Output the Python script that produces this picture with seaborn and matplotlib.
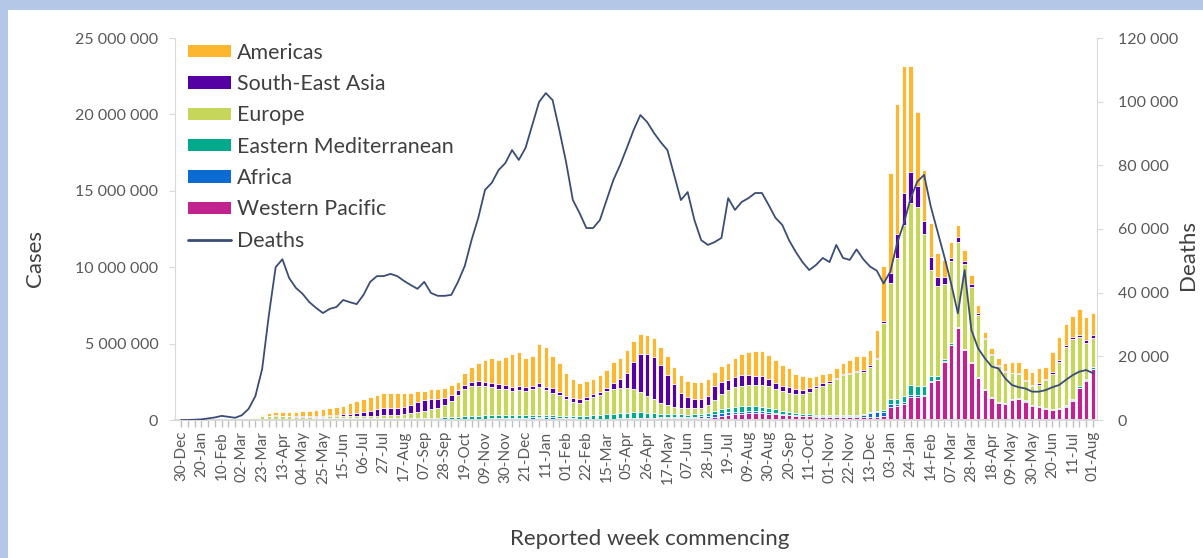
import numpy as np
import matplotlib
matplotlib.use("Agg")
import matplotlib.pyplot as plt
import seaborn as sns
from matplotlib.patches import Rectangle, Patch
from matplotlib.lines import Line2D
from matplotlib.ticker import FuncFormatter

# weekly new cases per WHO region, millions, 30-Dec-2019 .. 01-Aug-2022
western_pacific = [
    0.001, 0.002, 0.003, 0.005, 0.015, 0.02, 0.025, 0.012, 0.005, 0.008, 0.01,
    .01, .015, .015, .02, .015, .01, .008, .007, .006, .006, .006,
    .006, .006, .006, .007, .008, .01, .012, .015, .018, .02, .022, .022, .02, .018,
    .02, .02, .02, .02, .025, .03, .035, .04, .045, .05, .055, .06, .07,
    .08, .08, .08, .09, .1, .09, .08, .07, .06, .05, .04, .05,
    .05, .05, .055, .06, .07, .08, .09, .1, .11, .12, .13, .14, .14, .13, .12, .12, .13, .16,
    .22, .28, .33, .38, .42, .45, .47, .46, .42, .38, .34, .3,
    .27, .25, .23, .22, .22, .21, .21, .22, .22, .22, .22, .22, .22, .25,
    .87, .92, 1.05, 1.53, 1.53, 1.6, 2.5, 2.6, 3.8, 4.9, 6.0, 4.58, 3.7, 2.73, 1.96, 1.42,
    1.09, 1.05, 1.31, 1.35, 1.2, .92, .87, .7, .65, .7, .87, 1.27, 2.07, 2.57, 3.32]
africa = [
    0, 0, 0, 0, 0, 0, 0, 0, 0, 0, .001,
    .002, .004, .006, .008, .01, .012, .014, .016, .02, .022, .025,
    .028, .032, .036, .04, .045, .05, .055, .06, .055, .05, .045, .04, .035, .03,
    .03, .03, .03, .025, .025, .025, .03, .03, .035, .04, .045, .05, .055,
    .06, .07, .08, .1, .12, .11, .09, .07, .06, .05, .04, .035,
    .035, .035, .035, .035, .035, .04, .04, .04, .035, .035, .035, .04, .045, .05, .06, .08, .1, .13,
    .16, .18, .17, .15, .13, .12, .11, .1, .09, .08, .06, .05,
    .04, .035, .03, .025, .02, .02, .02, .02, .025, .04, .12, .22, .28, .25,
    .2, .15, .12, .1, .08, .06, .05, .04, .03, .03, .02, .02, .02, .02, .02, .02,
    .02, .03, .04, .05, .06, .05, .04, .03, .03, .03, .02, .02, .02, .02, .02]
eastern_med = [
    0, 0, 0, 0, 0, 0, 0, 0, .003, .008, .01,
    .015, .02, .025, .03, .035, .04, .045, .055, .065, .075, .085,
    .09, .1, .11, .09, .09, .09, .085, .08, .08, .075, .07, .07, .075, .085,
    .09, .1, .11, .12, .13, .15, .17, .19, .2, .21, .2, .19, .17,
    .16, .15, .14, .13, .13, .13, .13, .14, .14, .15, .17, .19,
    .21, .24, .27, .3, .33, .36, .38, .37, .33, .28, .23, .2, .19, .18, .17, .16, .16, .17,
    .2, .24, .29, .33, .35, .36, .35, .32, .28, .24, .2, .17,
    .15, .13, .12, .11, .1, .1, .09, .09, .085, .085, .085, .09, .11, .17,
    .3, .3, .4, .65, .6, .55, .35, .22, .15, .1, .08, .07, .06, .05, .05, .04,
    .04, .04, .04, .03, .03, .03, .03, .03, .04, .05, .07, .09, .12, .12, .1]
europe = [
    0, 0, 0, 0, 0, 0, 0, 0, .003, .012, .045,
    .11, .2, .24, .23, .2, .18, .15, .13, .12, .11, .105,
    .11, .12, .12, .113, .117, .12, .128, .135, .147, .165, .193, .228, .32, .417,
    .48, .55, .62, .785, 1.07, 1.415, 1.765, 1.94, 1.94, 1.9, 1.85, 1.75, 1.705,
    1.62, 1.66, 1.62, 1.68, 1.83, 1.63, 1.49, 1.36, 1.09, .95, .88, 1.035,
    1.185, 1.315, 1.56, 1.605, 1.635, 1.59, 1.49, 1.34, 1.125, .915, .705, .57, .475, .44, .43, .4, .39, .49,
    .72, 1.0, 1.16, 1.29, 1.35, 1.36, 1.36, 1.41, 1.41, 1.35, 1.28, 1.27,
    1.24, 1.305, 1.47, 1.715, 1.89, 2.12, 2.34, 2.59, 2.7, 2.775, 2.725, 2.97, 3.36, 5.7,
    7.57, 9.21, 11.19, 11.9, 11.75, 9.99, 6.92, 5.91, 4.92, 5.37, 5.57, 5.54, 4.95, 4.07, 3.25, 2.76,
    2.4, 2.03, 1.66, 1.59, 1.27, 1.23, 1.38, 1.84, 2.32, 3.02, 3.8, 3.92, 3.19, 2.34, 1.92]
south_east_asia = [
    0, 0, 0, 0, 0, 0, 0, 0, 0, 0, .001,
    .002, .005, .008, .012, .018, .022, .028, .035, .04, .045, .055,
    .07, .08, .1, .14, .22, .27, .33, .41, .46, .47, .48, .49, .5, .6,
    .69, .65, .62, .51, .39, .34, .29, .31, .32, .31, .29, .28, .28,
    .26, .27, .26, .23, .22, .22, .28, .21, .22, .22, .22, .22,
    .22, .17, .2, .44, .59, 1.03, 1.79, 2.47, 2.7, 2.8, 2.5, 2.0, 1.5, .99, .72, .64, .57, .65,
    .9, .8, .7, .65, .67, .66, .61, .56, .5, .4, .32, .35,
    .3, .24, .25, .16, .17, .1, .09, .07, .05, .11, .12, .1, .08, .13,
    .7, 1.59, 2.12, 2.07, 1.34, .85, .83, .57, .44, .2, .28, .22, .17, .11, .07, .06,
    .05, .05, .05, .06, .06, .07, .08, .1, .12, .13, .14, .15, .18, .19, .2]
americas = [
    0, 0, 0, 0, 0, 0, 0, 0, 0, .001, .005,
    .03, .1, .16, .2, .22, .25, .28, .33, .36, .41, .44,
    .46, .49, .55, .70, .79, .81, .92, .94, 1.03, 1.01, .98, .94, .80, .77,
    .61, .65, .6, .61, .65, .55, .76, .94, 1.17, 1.42, 1.59, 1.6, 1.87,
    2.12, 2.24, 1.86, 1.96, 2.55, 2.58, 2.12, 1.86, 1.53, 1.24, 1.05, 1.04,
    .96, 1.11, 1.18, 1.36, 1.38, 1.45, 1.39, 1.31, 1.26, 1.2, 1.2, 1.22, 1.1, 1.13, 1.06, 1.06, 1.15, 1.06,
    .96, 1.03, 1.05, 1.24, 1.4, 1.52, 1.64, 1.69, 1.55, 1.48, 1.4, 1.28,
    1.03, .9, .69, .67, .62, .5, .63, .76, .85, .96, .94, .98, 1.84, 3.6,
    6.5, 8.53, 8.32, 6.95, 4.88, 3.31, 2.22, 1.61, 1.13, 1.07, .81, .7, .59, .55, .43, .39,
    .44, .51, .72, .74, .76, .86, .98, .79, 1.31, 1.52, 1.38, 1.35, 1.66, 1.52, 1.42]

# weekly deaths, thousands
deaths_k = [
    0, 0, 0.1, 0.2, 0.5, 0.8, 1.3, 1.0, 0.7, 1.5, 3.5,
    7.5, 16, 33, 48, 50.5, 44.6, 41.5, 39.6, 37, 35.2, 33.6,
    34.9, 35.5, 37.7, 37, 36.4, 39.3, 43.4, 45.2, 45.2, 45.9, 45.2, 43.7, 42.4, 41.2,
    43.4, 39.9, 39, 39, 39.3, 43.4, 48.4, 56.5, 63.5, 72.3, 74.5, 78.5, 80.7,
    84.8, 81.7, 85.5, 92.7, 99.9, 102.7, 100.5, 91.1, 81, 69.1, 65, 60.3,
    60.3, 62.8, 69.1, 75.4, 80.1, 85.5, 91.1, 95.8, 93.6, 90.2, 87.3, 84.8, 77, 69.1, 71.6, 62.8, 56.5, 55,
    55.9, 57.2, 69.7, 66, 68.5, 69.7, 71.3, 71.3, 67.5, 63.5, 61.3, 56.5,
    52.8, 49.6, 47.1, 48.7, 50.9, 49.6, 55, 50.9, 50.3, 53.6, 50.5, 48.2, 46.9, 42.9,
    46.6, 55.5, 61.8, 69.6, 74.9, 77, 67, 59.2, 51.3, 42.9, 33.5, 47.1, 28.3, 22.5, 19.4, 16.8,
    16.2, 13.1, 11, 10.3, 9.9, 8.9, 8.9, 9.4, 10.3, 11, 12.6, 14.1, 15.2, 15.7, 14.7]

# every third week is labelled
tick_labels = [
    "30-Dec", "20-Jan", "10-Feb", "02-Mar", "23-Mar", "13-Apr", "04-May", "25-May",
    "15-Jun", "06-Jul", "27-Jul", "17-Aug", "07-Sep", "28-Sep", "19-Oct", "09-Nov",
    "30-Nov", "21-Dec", "11-Jan", "01-Feb", "22-Feb", "15-Mar", "05-Apr", "26-Apr",
    "17-May", "07-Jun", "28-Jun", "19-Jul", "09-Aug", "30-Aug", "20-Sep", "11-Oct",
    "01-Nov", "22-Nov", "13-Dec", "03-Jan", "24-Jan", "14-Feb", "07-Mar", "28-Mar",
    "18-Apr", "09-May", "30-May", "20-Jun", "11-Jul", "01-Aug"]

# bottom -> top of the stack
regions = ["Western Pacific", "Africa", "Eastern Mediterranean", "Europe",
           "South-East Asia", "Americas"]
region_values = [western_pacific, africa, eastern_med, europe, south_east_asia, americas]
colors = {"Americas": "#FDB62F", "South-East Asia": "#5500A5", "Europe": "#C6D65B",
          "Eastern Mediterranean": "#00A88C", "Africa": "#0B6BD3",
          "Western Pacific": "#C1228E"}
death_color = "#3B4D77"
text_grey = "#595959"
axis_grey = "#D9D9D9"

sns.set_style("white")
plt.rcParams["font.family"] = ["Lato", "DejaVu Sans"]
plt.rcParams["ytick.major.pad"] = 8

fig = plt.figure(figsize=(12.03, 5.58), dpi=100)
fig.patch.set_facecolor("#B4C7E7")
fig.add_artist(Rectangle((8 / 1203, 0), 1195 / 1203, 548 / 558,
                         transform=fig.transFigure, facecolor="white",
                         edgecolor="none", zorder=0))

ax = fig.add_axes([175 / 1203, 138 / 558, 922 / 1203, 382 / 558])
ax.set_facecolor("none")

weeks = np.arange(len(americas))
cum = np.cumsum(np.array(region_values), axis=0) * 1e6

# draw the cumulative totals from the top down so each region shows as a segment
for k in range(len(regions) - 1, -1, -1):
    sns.barplot(x=weeks, y=cum[k], color=colors[regions[k]], saturation=1,
                width=0.68, edgecolor="white", linewidth=0.6, errorbar=None, ax=ax)

ax2 = ax.twinx()
sns.lineplot(x=weeks, y=np.array(deaths_k) * 1000, color=death_color,
             linewidth=1.3, ax=ax2)

ax.set_xlim(-0.9, 135.6)
ax.set_ylim(0, 25e6)
ax2.set_ylim(0, 120000)
ax.set_yticks(np.arange(0, 25e6 + 1, 5e6))
ax2.set_yticks(np.arange(0, 120001, 20000))
ax.yaxis.set_major_formatter(FuncFormatter(lambda v, p: f"{int(round(v)):,}".replace(",", " ")))
ax2.yaxis.set_major_formatter(FuncFormatter(lambda v, p: f"{int(round(v)):,}".replace(",", " ")))

ax.set_xticks(np.arange(0, len(weeks), 3))
ax.set_xticklabels(tick_labels, rotation=90)
ax.set_xticks(weeks, minor=True)

ax.tick_params(axis="x", which="both", length=5, color="#BFBFBF", width=1,
               labelsize=11, labelcolor=text_grey, pad=3, bottom=True)
ax.tick_params(axis="y", length=4, color=axis_grey, labelsize=11.5,
               labelcolor=text_grey, left=True)
ax2.tick_params(axis="y", which="major", length=4, color=axis_grey, labelsize=11.5,
                labelcolor=text_grey, right=True, pad=11)

for s in ["top", "right"]:
    ax.spines[s].set_visible(False)
for s in ["top", "left", "bottom"]:
    ax2.spines[s].set_visible(False)
ax.spines["left"].set_color(axis_grey)
ax.spines["bottom"].set_color(axis_grey)
ax.spines["bottom"].set_linewidth(1.4)
ax2.spines["right"].set_color(axis_grey)

ax.set_ylabel("Cases", fontsize=16, color="#404040")
ax.yaxis.set_label_coords(-0.141, 0.424)
ax2.set_ylabel("Deaths", fontsize=16, color="#404040")
ax2.yaxis.set_label_coords(1.088, 0.432)
ax.set_xlabel("Reported week commencing", fontsize=16, color="#404040")
ax.xaxis.set_label_coords(0.515, -0.285)
ax.grid(False)
ax2.grid(False)

handles = [Patch(facecolor=colors[r], edgecolor="none") for r in regions[::-1]]
handles.append(Line2D([], [], color=death_color, linewidth=2))
labels = regions[::-1] + ["Deaths"]
ax2.legend(handles, labels, loc="upper left", bbox_to_anchor=(0.005, 1.01),
           frameon=False, fontsize=15.4, handlelength=2.0, handleheight=0.5,
           labelspacing=0.53, handletextpad=0.3, borderaxespad=0,
           labelcolor="#404040")

fig.savefig("out.png", dpi=100, facecolor=fig.get_facecolor())
